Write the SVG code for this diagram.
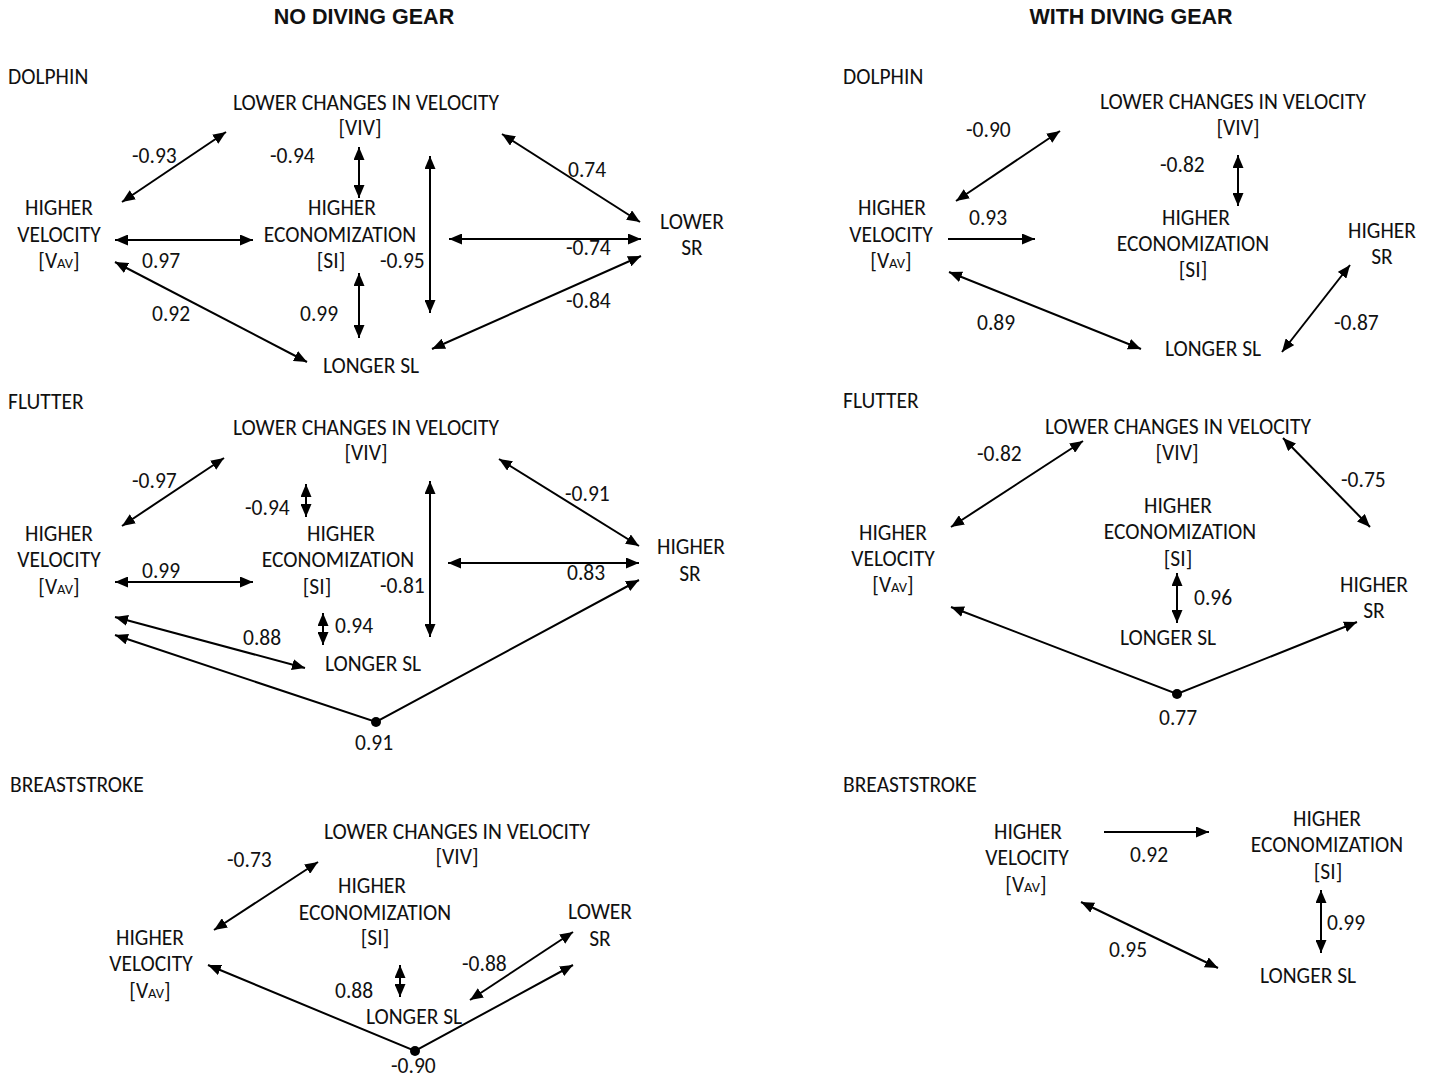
<svg xmlns="http://www.w3.org/2000/svg" width="1430" height="1078" viewBox="0 0 1430 1078">
<defs>
<style>
.t{font-family:Carlito,Lato,"Liberation Sans",sans-serif;font-size:21.5px;fill:#111}
.n text{text-anchor:middle}
.sub{font-size:14.5px}
.title{font-family:"Liberation Sans",Arial,sans-serif;font-weight:bold;font-size:21.5px;text-anchor:middle;fill:#111}
.c line,.c polyline{stroke:#000;stroke-width:2;fill:none}
.bi{marker-start:url(#ah);marker-end:url(#ah)}
.uni{marker-end:url(#ah)}
.dot{fill:#000}
</style>
<marker id="ah" viewBox="0 0 13 11" refX="13" refY="5.5" markerWidth="13" markerHeight="11" markerUnits="userSpaceOnUse" orient="auto-start-reverse">
<path d="M0,0 L13,5.5 L0,11 z" fill="#000"/>
</marker>
</defs>
<rect width="1430" height="1078" fill="#fff"/>

<g id="titles">
<text class="title" x="364" y="24">NO DIVING GEAR</text>
<text class="title" x="1131" y="24">WITH DIVING GEAR</text>
<text class="t" x="8" y="84">DOLPHIN</text>
<text class="t" x="8" y="409">FLUTTER</text>
<text class="t" x="10" y="792">BREASTSTROKE</text>
<text class="t" x="843" y="84">DOLPHIN</text>
<text class="t" x="843" y="408">FLUTTER</text>
<text class="t" x="843" y="792">BREASTSTROKE</text>
</g>

<!-- NO GEAR DOLPHIN nodes -->
<g id="ng-d-viv" class="n t"><text x="366" y="110">LOWER CHANGES IN VELOCITY</text><text x="360" y="135">[VIV]</text></g>
<g id="ng-d-vel" class="n t"><text x="59" y="215">HIGHER</text><text x="59" y="242">VELOCITY</text><text x="59" y="268">[V<tspan class="sub">AV</tspan>]</text></g>
<g id="ng-d-si" class="n t"><text x="342" y="215">HIGHER</text><text x="340" y="242">ECONOMIZATION</text><text x="331" y="268">[SI]</text></g>
<g id="ng-d-sl" class="n t"><text x="371" y="373">LONGER SL</text></g>
<g id="ng-d-sr" class="n t"><text x="692" y="229">LOWER</text><text x="692" y="255">SR</text></g>

<!-- NO GEAR FLUTTER nodes -->
<g id="ng-f-viv" class="n t"><text x="366" y="435">LOWER CHANGES IN VELOCITY</text><text x="366" y="460">[VIV]</text></g>
<g id="ng-f-vel" class="n t"><text x="59" y="541">HIGHER</text><text x="59" y="567">VELOCITY</text><text x="59" y="594">[V<tspan class="sub">AV</tspan>]</text></g>
<g id="ng-f-si" class="n t"><text x="341" y="541">HIGHER</text><text x="338" y="567">ECONOMIZATION</text><text x="317" y="594">[SI]</text></g>
<g id="ng-f-sl" class="n t"><text x="373" y="671">LONGER SL</text></g>
<g id="ng-f-sr" class="n t"><text x="691" y="554">HIGHER</text><text x="690" y="581">SR</text></g>

<!-- NO GEAR BREASTSTROKE nodes -->
<g id="ng-b-viv" class="n t"><text x="457" y="839">LOWER CHANGES IN VELOCITY</text><text x="457" y="864">[VIV]</text></g>
<g id="ng-b-si" class="n t"><text x="372" y="893">HIGHER</text><text x="375" y="920">ECONOMIZATION</text><text x="375" y="945">[SI]</text></g>
<g id="ng-b-sr" class="n t"><text x="600" y="919">LOWER</text><text x="600" y="946">SR</text></g>
<g id="ng-b-vel" class="n t"><text x="150" y="945">HIGHER</text><text x="151" y="971">VELOCITY</text><text x="150" y="998">[V<tspan class="sub">AV</tspan>]</text></g>
<g id="ng-b-sl" class="n t"><text x="414" y="1024">LONGER SL</text></g>

<!-- WITH GEAR DOLPHIN nodes -->
<g id="wg-d-viv" class="n t"><text x="1233" y="109">LOWER CHANGES IN VELOCITY</text><text x="1238" y="135">[VIV]</text></g>
<g id="wg-d-vel" class="n t"><text x="892" y="215">HIGHER</text><text x="891" y="242">VELOCITY</text><text x="891" y="268">[V<tspan class="sub">AV</tspan>]</text></g>
<g id="wg-d-si" class="n t"><text x="1196" y="225">HIGHER</text><text x="1193" y="251">ECONOMIZATION</text><text x="1193" y="277">[SI]</text></g>
<g id="wg-d-sr" class="n t"><text x="1382" y="238">HIGHER</text><text x="1382" y="264">SR</text></g>
<g id="wg-d-sl" class="n t"><text x="1213" y="356">LONGER SL</text></g>

<!-- WITH GEAR FLUTTER nodes -->
<g id="wg-f-viv" class="n t"><text x="1178" y="434">LOWER CHANGES IN VELOCITY</text><text x="1177" y="460">[VIV]</text></g>
<g id="wg-f-vel" class="n t"><text x="893" y="540">HIGHER</text><text x="893" y="566">VELOCITY</text><text x="893" y="592">[V<tspan class="sub">AV</tspan>]</text></g>
<g id="wg-f-si" class="n t"><text x="1178" y="513">HIGHER</text><text x="1180" y="539">ECONOMIZATION</text><text x="1178" y="566">[SI]</text></g>
<g id="wg-f-sl" class="n t"><text x="1168" y="645">LONGER SL</text></g>
<g id="wg-f-sr" class="n t"><text x="1374" y="592">HIGHER</text><text x="1374" y="618">SR</text></g>

<!-- WITH GEAR BREASTSTROKE nodes -->
<g id="wg-b-vel" class="n t"><text x="1028" y="839">HIGHER</text><text x="1027" y="865">VELOCITY</text><text x="1026" y="892">[V<tspan class="sub">AV</tspan>]</text></g>
<g id="wg-b-si" class="n t"><text x="1327" y="826">HIGHER</text><text x="1327" y="852">ECONOMIZATION</text><text x="1328" y="879">[SI]</text></g>
<g id="wg-b-sl" class="n t"><text x="1308" y="983">LONGER SL</text></g>

<g id="connectors" class="c">
<!-- no gear dolphin -->
<line class="bi" x1="122" y1="202" x2="226" y2="132"/>
<line class="bi" x1="359" y1="147" x2="359" y2="198"/>
<line class="bi" x1="430" y1="156" x2="430" y2="313"/>
<line class="bi" x1="115" y1="240" x2="253" y2="240"/>
<line class="bi" x1="115" y1="262" x2="307" y2="362"/>
<line class="bi" x1="359" y1="273" x2="359" y2="338"/>
<line class="bi" x1="502" y1="134" x2="640" y2="222"/>
<line class="bi" x1="449" y1="239" x2="641" y2="239"/>
<line class="bi" x1="432" y1="349" x2="641" y2="256"/>
<!-- no gear flutter -->
<line class="bi" x1="122" y1="526" x2="224" y2="458"/>
<line class="bi" x1="306" y1="484" x2="306" y2="517"/>
<line class="bi" x1="430" y1="481" x2="430" y2="637"/>
<line class="bi" x1="115" y1="582" x2="253" y2="582"/>
<line class="bi" x1="323" y1="613" x2="323" y2="645"/>
<line class="bi" x1="115" y1="617" x2="305" y2="668"/>
<polyline class="bi" points="115,635 376,722 639,580"/>
<line class="bi" x1="499" y1="459" x2="639" y2="546"/>
<line class="bi" x1="448" y1="563" x2="639" y2="563"/>
<!-- no gear breaststroke -->
<line class="bi" x1="214" y1="930" x2="318" y2="862"/>
<line class="bi" x1="400" y1="965" x2="400" y2="997"/>
<line class="bi" x1="470" y1="1000" x2="573" y2="932"/>
<polyline class="bi" points="208,965 415,1051 573,965"/>
<!-- with gear dolphin -->
<line class="bi" x1="956" y1="201" x2="1060" y2="131"/>
<line class="bi" x1="1238" y1="155" x2="1238" y2="206"/>
<line class="uni" x1="948" y1="239" x2="1035" y2="239"/>
<line class="bi" x1="949" y1="272" x2="1141" y2="349"/>
<line class="bi" x1="1282" y1="352" x2="1350" y2="265"/>
<!-- with gear flutter -->
<line class="bi" x1="951" y1="527" x2="1083" y2="441"/>
<line class="bi" x1="1283" y1="438" x2="1370" y2="527"/>
<line class="bi" x1="1177" y1="573" x2="1177" y2="623"/>
<polyline class="bi" points="951,607 1177,694 1357,622"/>
<!-- with gear breaststroke -->
<line class="uni" x1="1104" y1="832" x2="1209" y2="832"/>
<line class="bi" x1="1321" y1="890" x2="1321" y2="953"/>
<line class="bi" x1="1081" y1="902" x2="1218" y2="968"/>
<!-- junction dots -->
<circle class="dot" cx="376" cy="722" r="5"/>
<circle class="dot" cx="415" cy="1051" r="5"/>
<circle class="dot" cx="1177" cy="694" r="5"/>
</g>

<g id="edge-labels" class="t">
<text x="132" y="163">-0.93</text>
<text x="270" y="163">-0.94</text>
<text x="142" y="268">0.97</text>
<text x="380" y="268">-0.95</text>
<text x="152" y="321">0.92</text>
<text x="300" y="321">0.99</text>
<text x="568" y="177">0.74</text>
<text x="566" y="255">-0.74</text>
<text x="566" y="308">-0.84</text>

<text x="132" y="488">-0.97</text>
<text x="245" y="515">-0.94</text>
<text x="380" y="593">-0.81</text>
<text x="142" y="578">0.99</text>
<text x="335" y="633">0.94</text>
<text x="243" y="645">0.88</text>
<text x="355" y="750">0.91</text>
<text x="565" y="501">-0.91</text>
<text x="567" y="580">0.83</text>

<text x="227" y="867">-0.73</text>
<text x="335" y="998">0.88</text>
<text x="462" y="971">-0.88</text>
<text x="391" y="1073">-0.90</text>

<text x="966" y="137">-0.90</text>
<text x="1160" y="172">-0.82</text>
<text x="969" y="225">0.93</text>
<text x="977" y="330">0.89</text>
<text x="1334" y="330">-0.87</text>

<text x="977" y="461">-0.82</text>
<text x="1341" y="487">-0.75</text>
<text x="1194" y="605">0.96</text>
<text x="1159" y="725">0.77</text>

<text x="1130" y="862">0.92</text>
<text x="1327" y="930">0.99</text>
<text x="1109" y="957">0.95</text>
</g>
</svg>
